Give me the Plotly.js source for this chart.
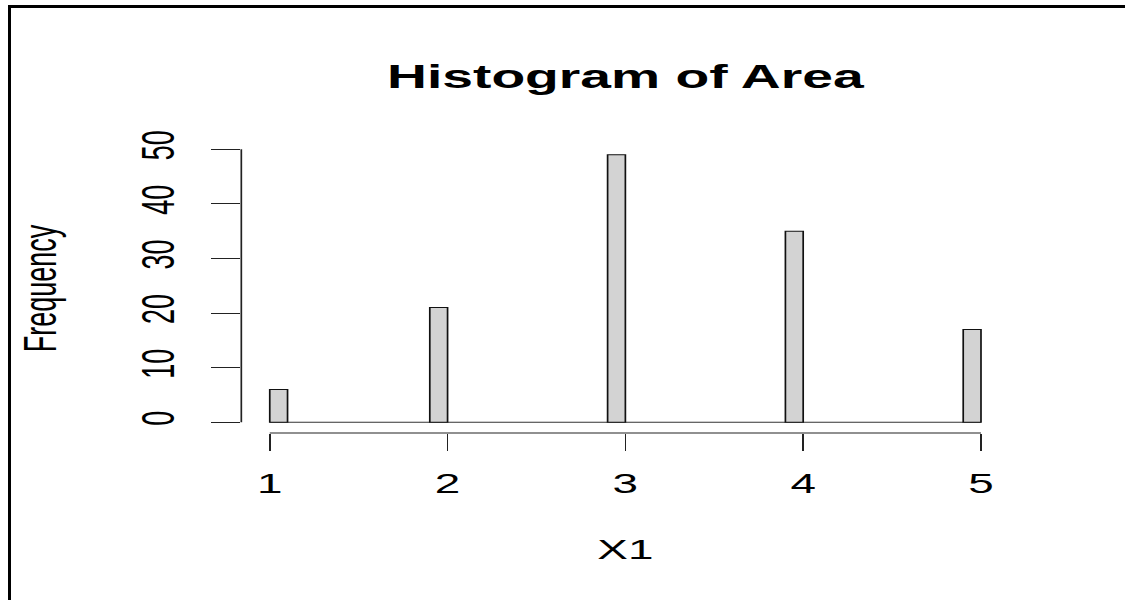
<!DOCTYPE html>
<html>
<head>
<meta charset="utf-8">
<script src="https://cdn.plot.ly/plotly-3.0.1.min.js"></script>
<style>
  html, body { margin: 0; padding: 0; background: #fff; overflow: hidden; }
  #wrap { position: absolute; left: 0; top: 0; width: 662px; height: 600px;
          transform: scaleX(1.6994); transform-origin: 0 0; }
  #frame { position: absolute; left: 8px; top: 5px; right: -20px; bottom: -20px;
           border-left: 3px solid #000; border-top: 3px solid #000; pointer-events: none; }
</style>
</head>
<body>
<div id="wrap"><div id="chart"></div></div>
<div id="frame"></div>
<script>
// Histogram of Area (variable X1)
const binStart = [1.0, 1.9, 2.9, 3.9, 4.9];
const binEnd   = [1.1, 2.0, 3.0, 4.0, 5.0];
const counts   = [6, 21, 49, 35, 17];
const xTicks   = [1, 2, 3, 4, 5];
const yTicks   = [0, 10, 20, 30, 40, 50];

const mids   = binStart.map((s, i) => (s + binEnd[i]) / 2);
const widths = binStart.map((s, i) => binEnd[i] - s);

const FONT = 'Liberation Sans, Arial, sans-serif';
const axisColor = '#222';

const trace = {
  type: 'bar',
  x: mids,
  y: counts,
  width: widths,
  marker: { color: '#D3D3D3', line: { color: '#111', width: 1 } },
  hoverinfo: 'x+y'
};

const xMin = binStart[0], xMax = binEnd[binEnd.length - 1];

const layout = {
  width: 662,
  height: 600,
  margin: { l: 142.4, r: 67.7, t: 143.8, b: 167.3, pad: 0 },
  paper_bgcolor: 'rgba(0,0,0,0)',
  plot_bgcolor: 'rgba(0,0,0,0)',
  showlegend: false,
  bargap: 0,
  title: {
    text: 'Histogram of Area',
    font: { family: FONT, size: 32.5, color: '#000', weight: 'bold' },
    x: 0.5, xref: 'paper', xanchor: 'center',
    y: 1 - 77 / 600, yref: 'container', yanchor: 'middle'
  },
  xaxis: {
    range: [0.84, 5.16],
    tickvals: xTicks,
    ticktext: xTicks.map(String),
    ticks: 'outside', ticklen: 17, tickwidth: 1, tickcolor: axisColor,
    ticklabelstandoff: 10,
    showline: false, showgrid: false, zeroline: false,
    tickfont: { family: FONT, size: 27, color: '#000' },
    title: { text: 'X1', font: { family: FONT, size: 27, color: '#000' }, standoff: 41 },
    fixedrange: true
  },
  yaxis: {
    range: [-1.96, 50.96],
    tickvals: yTicks,
    ticktext: yTicks.map(String),
    tickangle: -90,
    ticks: 'outside', ticklen: 17, tickwidth: 1, tickcolor: axisColor,
    ticklabelstandoff: 11,
    showline: false, showgrid: false, zeroline: false,
    tickfont: { family: FONT, size: 27, color: '#000' },
    title: { text: 'Frequency', font: { family: FONT, size: 27, color: '#000' }, standoff: 36 },
    fixedrange: true
  },
  shapes: [
    // x axis line spanning first to last tick
    { type: 'line', xref: 'x', yref: 'paper', x0: xTicks[0], x1: xTicks[xTicks.length - 1], y0: 0, y1: 0,
      line: { color: axisColor, width: 1 } },
    // y axis line spanning first to last tick
    { type: 'line', xref: 'paper', yref: 'y', x0: 0, x1: 0, y0: yTicks[0], y1: yTicks[yTicks.length - 1],
      line: { color: axisColor, width: 1 } },
    // baseline of empty histogram bins
    { type: 'line', xref: 'x', yref: 'y', x0: xMin, x1: xMax, y0: 0, y1: 0,
      line: { color: '#333', width: 1 }, layer: 'below' }
  ]
};

Plotly.newPlot('chart', [trace], layout, { displayModeBar: false, staticPlot: true });
</script>
</body>
</html>
